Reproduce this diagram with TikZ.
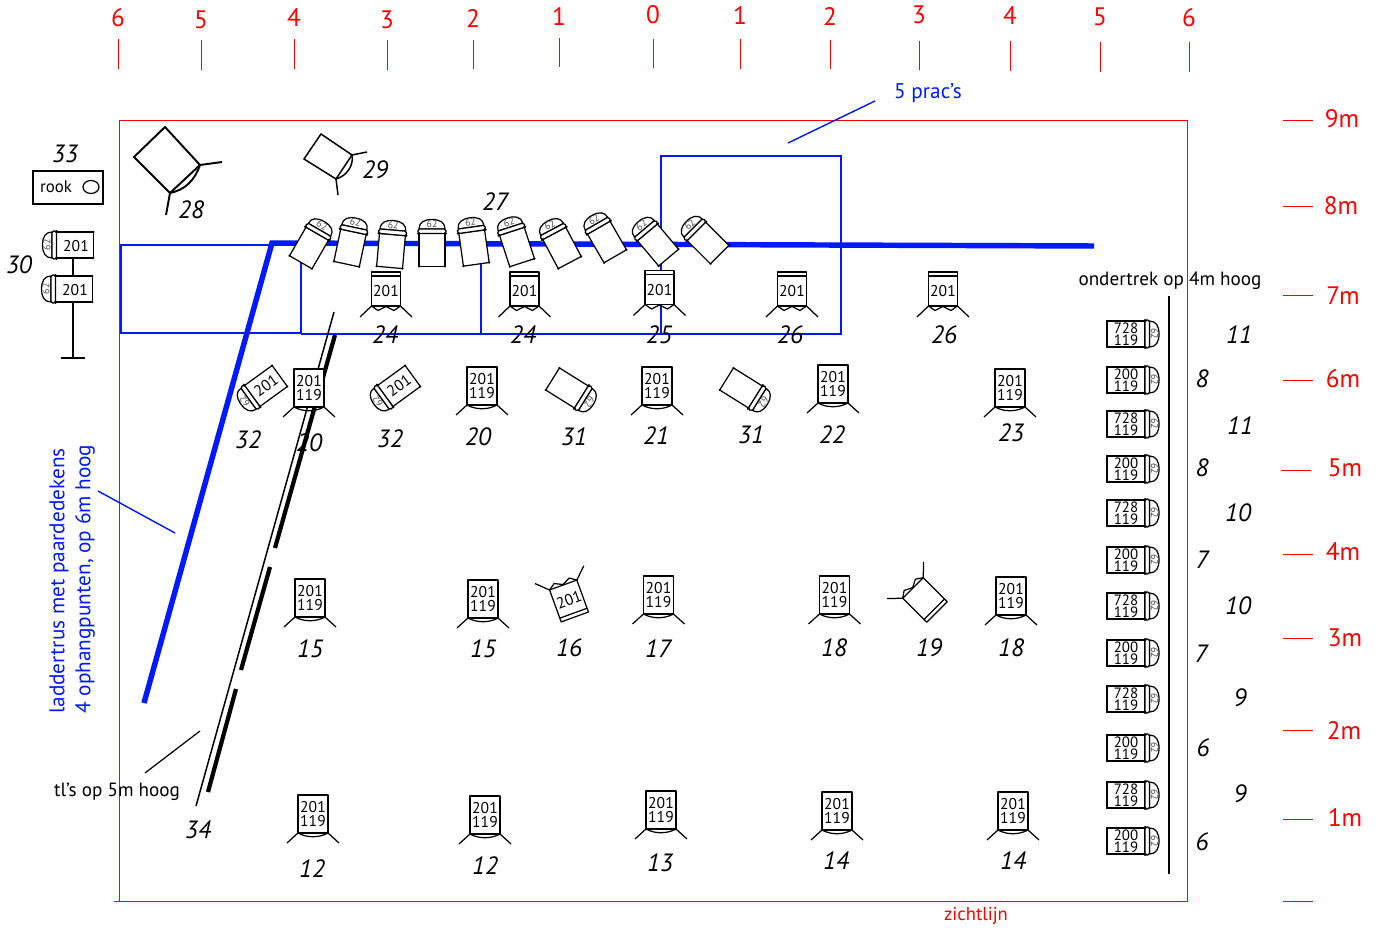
\documentclass[tikz,border=0pt]{standalone}
\usepackage{fontspec}
\setmainfont{PT Sans}
\usetikzlibrary{calc}
\tikzset{
	fixt/.style={line width=0.7pt,fill=white,line join=round},
	redln/.style={red,line width=0.55pt},
	blueln/.style={blue!90!cyan,line width=0.8pt},
	blacktxt/.style={font=\fontsize{10.9}{12}\selectfont},
	bluetxt/.style={blue!90!cyan,font=\fontsize{12.1}{14}\selectfont},
	num/.style={font=\fontsize{14.2}{16}\selectfont\itshape},
	axnum/.style={red,font=\fontsize{14.4}{16}\selectfont},
	onetxt/.style={font=\fontsize{8.9}{10}\selectfont,inner sep=0pt},
	twotxt/.style={font=\fontsize{8.9}{7.6}\selectfont,inner sep=0pt,align=center},
	sidetxt/.style={font=\fontsize{8.5}{6.6}\selectfont,inner sep=0pt,align=center},
	pics/lamp/.style={code={
		\pgfmathsetmacro\lamphl{#1/2}
		\draw[fixt](-13,-\lamphl) rectangle (13,\lamphl);
		\draw[fixt](-13,-\lamphl-4.5) .. controls (-13,-\lamphl-11) and (-8,-\lamphl-14) .. (0,-\lamphl-14) .. controls (8,-\lamphl-14) and (13,-\lamphl-11) .. (13,-\lamphl-4.5) -- cycle;
		\draw[fixt,rounded corners=1pt](-14,-\lamphl) rectangle (14,-\lamphl-4.5);
		\fill (-13,\lamphl) circle (1.2) (13,\lamphl) circle (1.2) (-14,-\lamphl) circle (1.2) (14,-\lamphl) circle (1.2);
		\node[transform shape,inner sep=0pt,gray!60!black,font=\fontsize{5.6}{6}\selectfont] (dome) at (0,-\lamphl-9.5) {62};
	}},
	pics/pcbox/.style={code={
		\draw[fixt](-15,-19) rectangle (15,19);
		\draw[line width=0.7pt](-15,19)--(-26,29) (15,19)--(26,29);
		\draw[line width=0.7pt](-15,19) .. controls (-6,24) and (6,24) .. (15,19);
	}},
	pics/pcfive/.style={code={
		\draw[fixt](-14.5,-17) rectangle (14.5,17);
		\draw[line width=0.7pt](-14.5,-13)--(14.5,-13);
		\draw[line width=0.7pt](-26,28)--(-14.5,17)--(-8,21.5)--(0,17.5)--(8,21.5)--(14.5,17)--(26,28);
	}},
}
\begin{document}
\begin{tikzpicture}[x=0.02cm,y=-0.02cm]
	\useasboundingbox (0,0) rectangle (1380,928);
	\draw[redln](119,120) rectangle (1187,901);
	\draw[redln](114,901)--(119,901);
	\foreach \x/\ya/\yb/\ly/\t in {118/39/69/18/6,201/40/70/20/5,294/39/69/18/4,387/40/70/20/3,473/40/69/19/2,559/38/67/17/1,653/39/68/15/0,740/39/69/16/1,830/40/69/17/2,919/41/70/15/3,1010/41/71/16/4,1100/42/72/17/5,1189/42/72/18/6}{
		\draw[redln](\x,\ya)--(\x,\yb);
		\node[axnum] (top-\x) at (\x,\ly) {\t};
	}
	\foreach \y/\xa/\lx/\ly/\t in {120/1283/1342/119/9m,206/1283/1341/206/8m,295/1283/1343/296/7m,380/1283/1343/379/6m,470/1281/1345/468/5m,554/1283/1343/552/4m,638/1283/1345/638/3m,730/1283/1344/730/2m,819/1283/1345/817/1m}{
		\draw[redln](\xa,\y)--(\xa+30,\y);
		\node[axnum] (right-\y) at (\lx,\ly) {\t};
	}
	\draw[redln](1283,901)--(1313,901);
	\node[red,font=\fontsize{10.6}{12}\selectfont] (zicht) at (976,916) {zichtlijn};
	\draw[blueln](301,245)--(121,245)--(121,333)--(301,333)--(301,245);
	\draw[blueln](301,334)--(841,334)--(841,156)--(661,156)--(661,334);
	\draw[blueln](481,245)--(481,334);
	\draw[blue!90!cyan,line width=3.1pt](144,703)--(272,243)--(1094,246);
	\draw[blueln](875,101)--(788,143);
	\draw[blueln](98,491)--(175,533);
	\node[bluetxt] (prac) at (928,93) {5 prac’s};
	\node[bluetxt,rotate=90] (ladder) at (59,581) {laddertrus met paardedekens};
	\node[bluetxt,rotate=90] (ophang) at (85,579) {4 ophangpunten, op 6m hoog};
	\draw[line width=0.85pt](334,312)--(196,806);
	\draw[line width=2.4pt](335,335)--(275,548);
	\draw[line width=2.4pt](270,567)--(241,670);
	\draw[line width=2.4pt](236,689)--(208,792);
	\draw[line width=0.7pt](145,773)--(200,731);
	\node[blacktxt] (tl) at (117,792) {tl’s op 5m hoog};
	\node[blacktxt] (ondertrek) at (1170,281) {ondertrek op 4m hoog};
	\draw[line width=0.85pt](1169,296)--(1169,874);
	\draw[line width=1.1pt,fill=white](165,127)--(200,165)--(170,193)--(134,157)--cycle;
	\draw[line width=1.1pt](222,162)--(200,165) .. controls (195,180) and (185,190) .. (170,193)--(166,215);
	\draw[line width=0.85pt,fill=white](321,134)--(352,155)--(336,179)--(304,159)--cycle;
	\draw[line width=0.85pt](367,152)--(352,155) .. controls (354,165) and (347,176) .. (336,179)--(338,195);
	\draw[line width=0.85pt](33,171) rectangle (103,204);
	\node[font=\fontsize{9.6}{10}\selectfont] (rook) at (56,187) {rook};
	\draw[line width=0.7pt](91,187) ellipse (8 and 6.5);
	\draw[line width=0.85pt](73,258)--(73,358) (61,358)--(85,358);
	\foreach \x/\y/\a in {75/245/90,74/289/90}{
		\pic[rotate=\a] at (\x,\y) {lamp=37};
		\node[onetxt] (side-\y) at (\x+1,\y+1) {201};
	}
	\foreach \x/\y/\a in {309/248/-30,350/248/-12,391/251/-5,432/250/0,474/248/8,517/247/18,562/248/28,607/242/30,658/245/40,708/243/45}{
		\pic[rotate=\a] at (\x,\y) {lamp=33};
	}
	\foreach \x/\y in {266/386,399/386}{
		\pic[rotate=126] at (\x,\y) {lamp=34};
		\node[onetxt,rotate=36] (angled-\x) at (\x,\y) {201};
	}
	\foreach \x/\y in {567/388,741/388}{
		\pic[rotate=-122] at (\x,\y) {lamp=34};
	}
	\foreach \x/\y/\t in {1126/334/728,1126/380/200,1126/424/728,1126/469/200,1126/513/728,1126/560/200,1126/606/728,1126/653/200,1126/699/728,1126/748/200,1126/795/728,1126/841/200}{
		\pic[rotate=-90] at (\x,\y) {lamp=38};
		\node[sidetxt] (col-\y) at (\x,\y) {\t\\119};
	}
	\foreach \x/\y in {309/388,482/386,657/386,833/384,1010/388,310/598,483/599,658.5/595,834.5/595,1011/596,313/814,485/815,661/810,837/811,1013/811}{
		\pic at (\x,\y) {pcbox};
		\node[twotxt] (pc-\x-\y) at (\x,\y) {201\\119};
	}
	\foreach \x/\y in {386/289,524.5/289,659.5/287.5,792/289,943/289}{
		\pic at (\x,\y) {pcfive};
		\node[onetxt] (five-\x) at (\x,\y+2.5) {201};
	}
	\pic[rotate=200] at (569,601) {pcfive};
	\node[onetxt,rotate=20] (tilt) at (569,600) {201};
	\pic[rotate=225] at (925,600) {pcfive};
	\foreach \x/\y/\t in {65/154/33,191/210/28,375/170/29,495/202/27,19/265/30,385/335/24,523/335/24,659/335/25,790/335/26,944/335/26,248/440/32,309/443/20,390/439/32,478/437/20,574/437/31,656/436/21,751/435/31,832/435/22,1011/433/23,310/649/15,483/649/15,569/648/16,658/649/17,834/648/18,929/648/19,1011/648/18,198/830/34,312/869/12,485/866/12,660/863/13,836/861/14,1013/861/14,1239/335/11,1202/379/8,1240/426/11,1202/468/8,1238/513/10,1202/560/7,1238/606/10,1201/654/7,1240/698/9,1203/748/6,1240/794/9,1202/842/6}{
		\node[num] (num-\x-\y) at (\x,\y) {\t};
	}
\end{tikzpicture}
\end{document}
